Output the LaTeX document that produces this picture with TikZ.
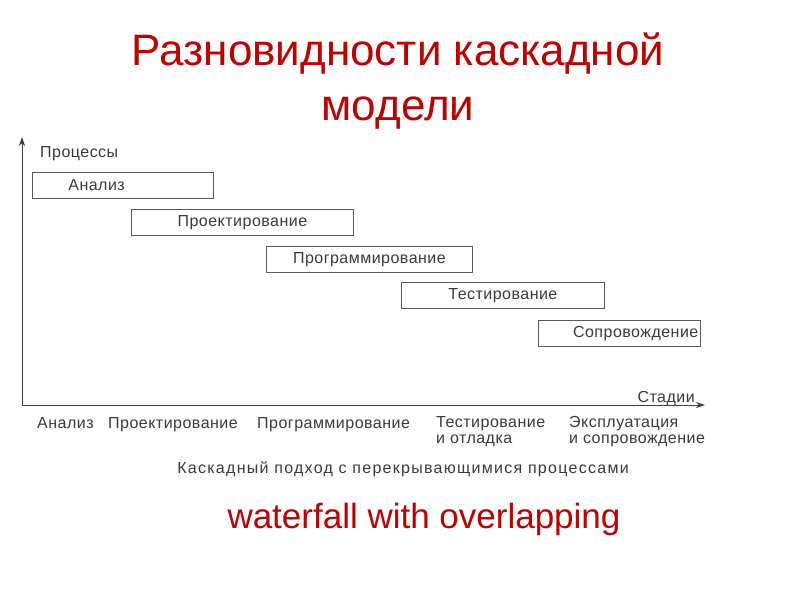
\documentclass[tikz,border=0pt]{standalone}
\usepackage{fontspec}
\setmainfont{Liberation Sans}
\usetikzlibrary{arrows.meta, positioning}
\definecolor{titlered}{HTML}{C00000}
\definecolor{inkgrey}{HTML}{3A3A3A}
\definecolor{framegrey}{HTML}{5A5A5A}
\newfontfamily\scanfont[LetterSpace=3]{Liberation Sans}
\newfontfamily\capfont[LetterSpace=8]{Liberation Sans}
\tikzset{
  >={Stealth[length=9pt, width=6pt]},
  proc/.style={rectangle, draw=framegrey, line width=0.8pt, minimum height=26pt,
               inner ysep=0pt, anchor=north west, font=\scanfont\fontsize{16}{18}\selectfont, text=inkgrey},
  lbl/.style={font=\scanfont\fontsize{16}{16}\selectfont, text=inkgrey, inner sep=0pt, align=left},
  head/.style={font=\fontsize{44}{55}\selectfont, text=titlered, align=center, inner sep=0pt},
  axis/.style={->, line width=1pt, draw=black!75},
}
\begin{document}
\begin{tikzpicture}[x=1pt, y=-1pt]
  \useasboundingbox[fill=white] (0,0) rectangle (800,600);
  % title
  \node[head, anchor=north] (title) at (398,33) {Разновидности каскадной\\модели};
  % axes
  \coordinate (orig) at (22,405);
  \coordinate (ytop) at (22,137);
  \coordinate (xend) at (705,405);
  \draw[axis] (orig) -- (ytop);
  \draw[axis] (orig) -- (xend);
  \node[lbl, anchor=base west] (procs) at (40,157) {Процессы};
  \node[lbl, anchor=base east] (stages) at (695,402) {Стадии};
  % overlapping processes
  \node[proc, inner xsep=36pt, text width=109pt, align=left] (anal) at (32,172) {Анализ};
  \node[proc, inner xsep=0pt, text width=222pt, align=center] (design) at (131,209) {Проектирование};
  \node[proc, inner xsep=0pt, text width=206pt, align=center] (coding) at (266,246) {Программирование};
  \node[proc, inner xsep=0pt, text width=203pt, align=center] (testing) at (401,282) {Тестирование};
  \node[proc, inner xsep=2pt, text width=158pt, align=right] (support) at (538,320) {Сопровождение};
  % stages along the axis
  \node[lbl, anchor=base west] (s1) at (37,428) {Анализ};
  \node[lbl, anchor=base west] (s2) at (108,428) {Проектирование};
  \node[lbl, anchor=base west] (s3) at (257,428) {Программирование};
  \node[lbl, anchor=north west] (s4) at (436,416) {Тестирование\\и отладка};
  \node[lbl, anchor=north west] (s5) at (569,416) {Эксплуатация\\и сопровождение};
  % captions
  \node[lbl, font=\capfont\fontsize{16}{16}\selectfont, anchor=base] (cap) at (403,473) {Каскадный подход с перекрывающимися процессами};
  \node[font=\fontsize{35}{40}\selectfont, text=titlered, inner sep=0pt, anchor=base] (eng) at (424,528) {waterfall with overlapping};
\end{tikzpicture}
\end{document}
